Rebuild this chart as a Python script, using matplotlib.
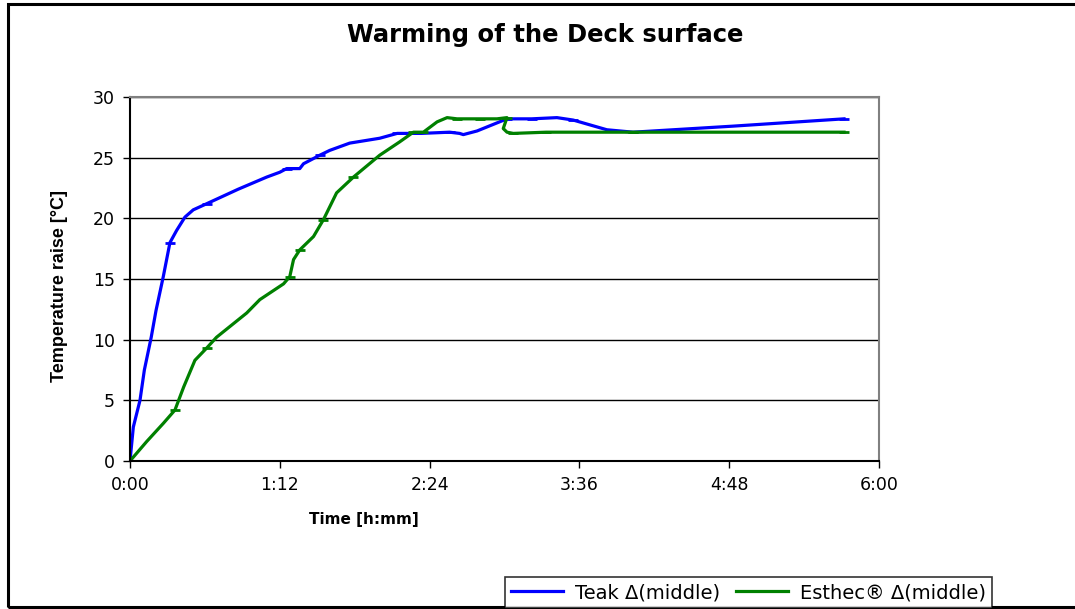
import numpy as np
import matplotlib
matplotlib.use("Agg")
import matplotlib.pyplot as plt
from matplotlib.patches import Rectangle

plt.rcParams['font.family'] = ['Liberation Sans', 'DejaVu Sans']

# time in minutes, temperature raise in degC
teak_t = [0, 1.6, 4.8, 6.9, 10.2, 12.5, 16, 19.2, 22.4, 26.4, 30.4, 36.8, 52, 65.7,
          72, 75.3, 81.6, 83.4, 91.2, 96, 105.6, 120, 128.4, 140, 153.6, 158.4,
          160.2, 166.8, 181.2, 193, 205.2, 213, 229.2, 241.8, 290, 343.2]
teak_y = [0, 2.8, 5.0, 7.5, 10.2, 12.4, 15.2, 18.0, 19.0, 20.1, 20.7, 21.2, 22.4, 23.4,
          23.8, 24.1, 24.1, 24.5, 25.2, 25.6, 26.2, 26.6, 27.0, 27.0, 27.1, 27.0,
          26.9, 27.2, 28.2, 28.2, 28.3, 28.1, 27.3, 27.1, 27.6, 28.2]
teak_marks = [7, 11, 15, 18, 22, 24, 28, 29, 31, 33, 35]

esthec_t = [0, 8, 16, 21.6, 25.8, 31.2, 36.8, 41.6, 56.1, 62.4, 73.8, 76.8, 78.6,
            81.6, 88.2, 93, 99.3, 107.4, 120, 129.6, 136.2, 141, 147.6, 152.4,
            157.2, 168, 176.4, 181.2, 179.4, 181.2, 184.2, 200, 241.8, 343.2]
esthec_y = [0, 1.6, 3.1, 4.2, 6.1, 8.3, 9.3, 10.2, 12.2, 13.3, 14.6, 15.2, 16.6,
            17.4, 18.5, 19.9, 22.1, 23.4, 25.2, 26.3, 27.1, 27.1, 27.95, 28.3,
            28.2, 28.2, 28.2, 28.3, 27.4, 27.1, 27.0, 27.1, 27.1, 27.1]
esthec_marks = [0, 3, 6, 11, 13, 15, 17, 20, 21, 24, 25, 27, 30, 31, 32, 33]

xticks = [0, 72, 144, 216, 288, 360]
xlabels = ['0:00', '1:12', '2:24', '3:36', '4:48', '6:00']

fig = plt.figure(figsize=(10.75, 6.09), dpi=100)
ax = fig.add_axes([130 / 1075, 1 - 461 / 609, (879 - 130) / 1075, (461 - 97) / 609])

l1, = ax.plot(teak_t, teak_y, color='#0000ff', lw=2.3, marker='_', ms=7, mew=2,
              markevery=teak_marks, label='Teak \u0394(middle)')
l2, = ax.plot(esthec_t, esthec_y, color='#008000', lw=2.3, marker='_', ms=7, mew=2,
              markevery=esthec_marks, label='Esthec\u00ae \u0394(middle)')

ax.set_xlim(0, 360)
ax.set_ylim(0, 30)
ax.set_xticks(xticks)
ax.set_xticklabels(xlabels)
ax.set_yticks(range(0, 31, 5))
ax.yaxis.grid(True, color='black', lw=1)
ax.set_axisbelow(True)
ax.tick_params(labelsize=12.5, length=5, width=1, color='black', pad=6)
for lab in ax.get_xticklabels() + ax.get_yticklabels():
    lab.set_family(['DejaVu Sans'])
for s in ['top', 'right']:
    ax.spines[s].set_color('#808080')
    ax.spines[s].set_linewidth(1.5)
for s in ['left', 'bottom']:
    ax.spines[s].set_color('black')
    ax.spines[s].set_linewidth(1.5)

ax.set_xlabel('Time [h:mm]', fontsize=11, fontweight='bold',
              family=['DejaVu Sans'])
ax.xaxis.set_label_coords((364 - 130) / 749, -51 / 364)
ax.set_ylabel('Temperature raise [\u00b0C]', fontsize=13, fontweight='bold')
ax.yaxis.set_label_coords(-62 / 749, 175 / 364)
fig.text(545 / 1075, 1 - 35 / 609, 'Warming of the Deck surface', ha='center', va='center',
         fontsize=17.5, fontweight='bold', family=['DejaVu Sans'])

leg = fig.legend(handles=[l1, l2], loc='lower left', bbox_to_anchor=(505 / 1075, 1 / 609),
                 ncol=2, frameon=True, fancybox=False, edgecolor='black',
                 prop={'family': 'DejaVu Sans', 'size': 14},
                 handlelength=2.7, columnspacing=0.8, handletextpad=0.6, borderaxespad=0,
                 borderpad=0.3)
leg.get_frame().set_linewidth(1.2)

fig.patches.append(Rectangle((8 / 1075, 2 / 609), 1.1, 603 / 609, transform=fig.transFigure,
                             fill=False, edgecolor='black', lw=2.2))

fig.savefig('out.png', dpi=100)
